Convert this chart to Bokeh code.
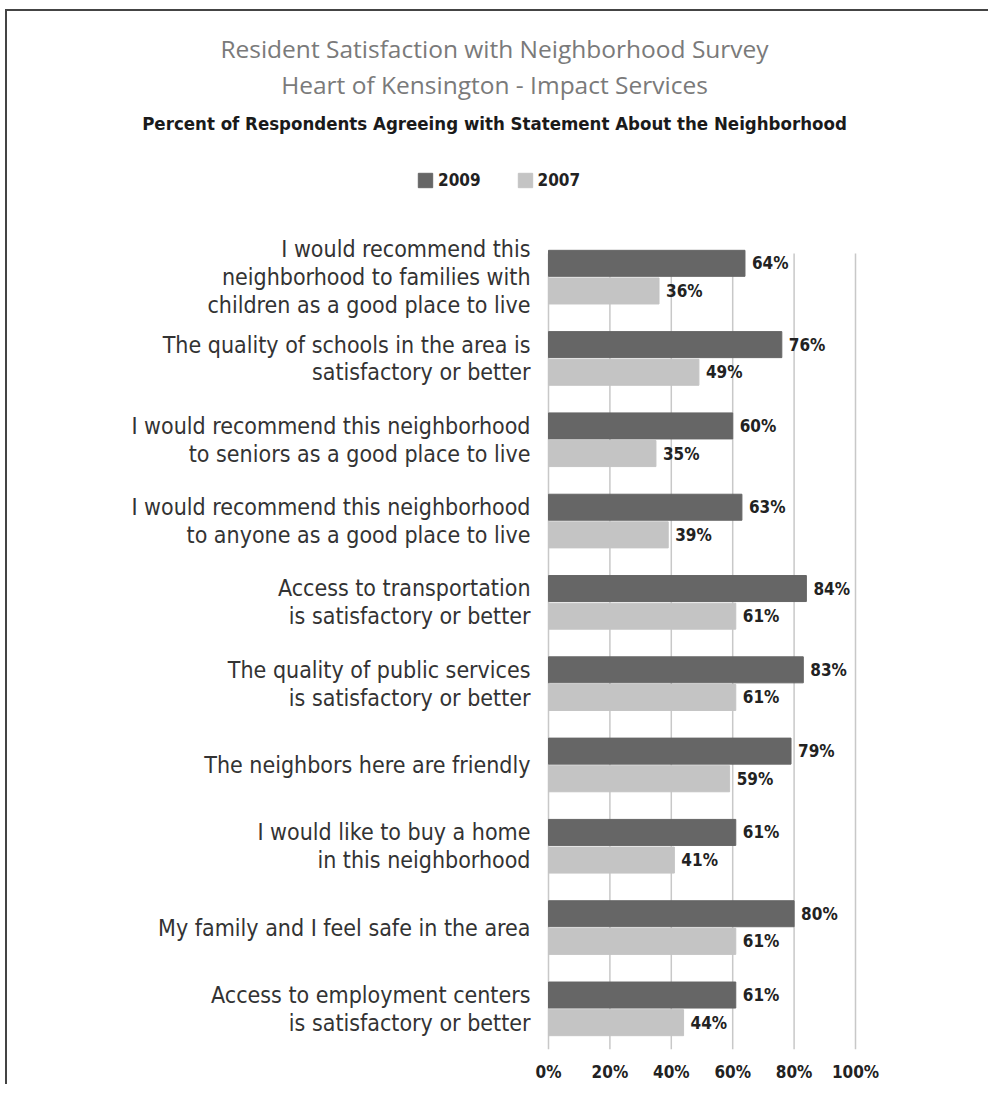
from bokeh.plotting import figure
from bokeh.models import Range1d, Label, Legend, LegendItem, FixedTicker, ColumnDataSource
from bokeh.transform import dodge
from bokeh.embed import file_html
from bokeh.resources import INLINE
from bokeh.core.properties import value

# ---------------- data ----------------
categories = [
    "I would recommend this\nneighborhood to families with\nchildren as a good place to live",
    "The quality of schools in the area is\nsatisfactory or better",
    "I would recommend this neighborhood\nto seniors as a good place to live",
    "I would recommend this neighborhood\nto anyone as a good place to live",
    "Access to transportation\nis satisfactory or better",
    "The quality of public services\nis satisfactory or better",
    "The neighbors here are friendly",
    "I would like to buy a home\nin this neighborhood",
    "My family and I feel safe in the area",
    "Access to employment centers\nis satisfactory or better",
]
values_2009 = [64, 76, 60, 63, 84, 83, 79, 61, 80, 61]
values_2007 = [36, 49, 35, 39, 61, 61, 59, 41, 61, 44]
series = ["2009", "2007"]
tick_values = [0, 20, 40, 60, 80, 100]
tick_labels = ["0%", "20%", "40%", "60%", "80%", "100%"]
title_lines = [
    "Resident Satisfaction with Neighborhood Survey",
    "Heart of Kensington - Impact Services",
    "Percent of Respondents Agreeing with Statement About the Neighborhood",
]

# ---------------- styles / layout ----------------
COND = "DejaVu Sans Condensed, Roboto"
HUMAN = "Open Sans"
C2009 = "#666666"
C2007 = "#c4c4c4"
OX, OY = 7, 11                      # page offset of the canvas (frame border sits just outside)
W, H = 983, 1075                     # keep the page well inside the window (no scrollbars)
BAND_BOTTOM_PG = 1049                # page row of the bottom of the last band
BAND_TOP_PG = 236
FRAME_W = W                          # frame spans the whole canvas width
FRAME_H = BAND_BOTTOM_PG - OY
X0, X100 = 548, 855                  # page columns of 0% and 100%
PPX = (X100 - X0) / 100.0
N = len(categories)
BAND = (BAND_BOTTOM_PG - BAND_TOP_PG) / N


def px_x(px):   # page column -> data x
    return (px - X0) / PPX


def px_y(py):   # page row -> data y
    return -0.5 + (BAND_BOTTOM_PG - py) / BAND


ypos = [N - 1 - i for i in range(N)]
src = ColumnDataSource(dict(
    cat=categories, y=ypos,
    v2009=values_2009, v2007=values_2007,
    l2009=[f"{v}%" for v in values_2009],
    l2007=[f"{v}%" for v in values_2007],
))

p = figure(
    x_range=Range1d(px_x(OX), px_x(OX + FRAME_W)),
    y_range=Range1d(px_y(BAND_BOTTOM_PG), px_y(OY)),
    frame_width=FRAME_W, frame_height=FRAME_H,
    min_border_left=0, min_border_right=0,
    min_border_top=0, min_border_bottom=H - FRAME_H,
    y_axis_location=None,
    output_backend="svg", toolbar_location=None, tools="",
)
p.margin = (OY, 0, 0, OX)
p.styles = {"box-shadow": "-2px -2px 0 0 #444444"}
p.outline_line_color = None
p.background_fill_color = "white"
p.border_fill_color = "white"
p.xgrid.grid_line_color = None
p.ygrid.grid_line_color = None

# vertical grid lines at the tick values, only over the bar area
p.segment(x0=tick_values, x1=tick_values,
          y0=[px_y(BAND_BOTTOM_PG)] * len(tick_values), y1=[px_y(253)] * len(tick_values),
          line_color="#c8c8c8", line_width=1.5)

r1 = p.hbar(y=dodge("y", 0.17), left=0, right="v2009", height=0.32,
            source=src, fill_color=C2009, line_color=C2009)
r2 = p.hbar(y=dodge("y", -0.17), left=0, right="v2007", height=0.32,
            source=src, fill_color=C2007, line_color=C2007)

for col, lab, dv in (("v2009", "l2009", 0.17), ("v2007", "l2007", -0.17)):
    p.text(x=col, y=dodge("y", dv), text=lab, source=src,
           x_offset=7, text_baseline="middle", text_align="left",
           text_font=value(COND), text_font_size="17px",
           text_font_style="bold", text_color="#222222")

# category labels (right aligned left of the bars)
p.text(x=px_x(530), y="y", text="cat", source=src,
       text_align="right", text_baseline="middle",
       text_font=value(COND), text_font_size="23px",
       text_line_height=1.07, text_color="#333333")

# x axis
xa = p.xaxis[0]
xa.ticker = FixedTicker(ticks=tick_values)
xa.major_label_overrides = dict(zip(tick_values, tick_labels))
xa.axis_line_color = None
xa.major_tick_line_color = None
xa.minor_tick_line_color = None
xa.major_label_standoff = 6
xa.major_label_text_font = COND
xa.major_label_text_font_size = "17px"
xa.major_label_text_font_style = "bold"
xa.major_label_text_color = "#222222"

# titles (vertical centre of each line, page rows)
title_specs = [
    (title_lines[0], 48, HUMAN, "24.5px", "normal", "#7a7a7a"),
    (title_lines[1], 84, HUMAN, "24.5px", "normal", "#7a7a7a"),
    (title_lines[2], 123, COND, "18.5px", "bold", "#1a1a1a"),
]
for txt, cy, font, size, style, color in title_specs:
    p.add_layout(Label(x=px_x(494), y=px_y(cy), text=txt, text_align="center",
                       text_baseline="middle", text_font=font,
                       text_font_size=size, text_font_style=style,
                       text_color=color))

# legend (location relative to the frame's bottom-left corner)
legend = Legend(
    items=[LegendItem(label=series[0], renderers=[r1]),
           LegendItem(label=series[1], renderers=[r2])],
    orientation="horizontal",
    location=(416 - OX, BAND_BOTTOM_PG - 170 - 20),
    padding=0, margin=0, spacing=35, label_standoff=4,
    glyph_width=18, glyph_height=18, label_height=20,
    border_line_color=None, background_fill_alpha=0,
    label_text_font=COND, label_text_font_size="17px",
    label_text_font_style="bold", label_text_color="#222222",
)
p.add_layout(legend)

open("out.html", "w").write(file_html(p, INLINE))
